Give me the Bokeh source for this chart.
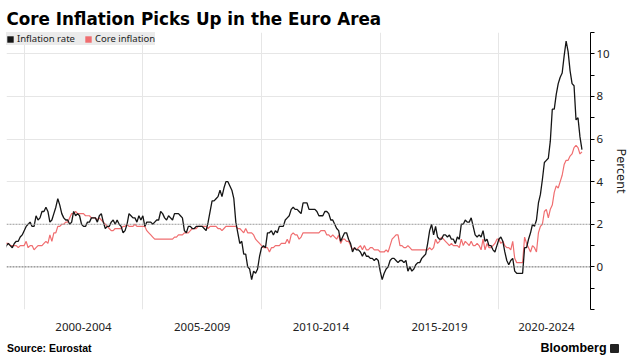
import math
from bokeh.plotting import figure
from bokeh.layouts import column
from bokeh.models import (ColumnDataSource, FixedTicker, Span, Legend,
                          LegendItem, Range1d, Div)
from bokeh.embed import file_html
from bokeh.resources import INLINE

# ---------------- data (monthly, Jan 1999 .. Jun 2023, % y/y) ----------------
START_YEAR = 1999

inflation_rate = [
    0.8, 0.8, 1.0, 1.1, 1.0, 0.9, 1.1, 1.2, 1.2, 1.4, 1.5, 1.7,   # 1999
    1.9, 2.0, 2.1, 1.9, 1.9, 2.4, 2.2, 2.3, 2.6, 2.6, 2.8, 2.6,   # 2000
    2.1, 2.2, 2.5, 2.8, 3.2, 2.9, 2.5, 2.3, 2.2, 2.2, 2.0, 2.1,   # 2001
    2.6, 2.4, 2.5, 2.4, 2.0, 1.9, 1.9, 2.1, 2.1, 2.3, 2.3, 2.3,   # 2002
    2.1, 2.4, 2.5, 2.1, 1.8, 1.9, 1.9, 2.1, 2.2, 2.0, 2.2, 2.0,   # 2003
    1.9, 1.6, 1.7, 2.0, 2.5, 2.4, 2.3, 2.3, 2.1, 2.4, 2.2, 2.4,   # 2004
    1.9, 2.1, 2.1, 2.1, 2.0, 2.1, 2.2, 2.2, 2.6, 2.5, 2.3, 2.2,   # 2005
    2.4, 2.3, 2.2, 2.5, 2.5, 2.5, 2.4, 2.3, 1.7, 1.6, 1.9, 1.9,   # 2006
    1.8, 1.8, 1.9, 1.9, 1.9, 1.9, 1.8, 1.7, 2.1, 2.6, 3.1, 3.1,   # 2007
    3.2, 3.3, 3.6, 3.3, 3.7, 4.0, 4.0, 3.8, 3.6, 3.2, 2.1, 1.6,   # 2008
    1.1, 1.2, 0.6, 0.6, 0.0, -0.1, -0.6, -0.2, -0.3, -0.1, 0.5, 0.9,  # 2009
    1.0, 0.9, 1.6, 1.6, 1.7, 1.5, 1.7, 1.6, 1.9, 1.9, 1.9, 2.2,   # 2010
    2.3, 2.4, 2.7, 2.8, 2.7, 2.7, 2.6, 2.5, 3.0, 3.0, 3.0, 2.7,   # 2011
    2.7, 2.7, 2.7, 2.6, 2.4, 2.4, 2.4, 2.6, 2.6, 2.5, 2.2, 2.2,   # 2012
    2.0, 1.8, 1.7, 1.2, 1.4, 1.6, 1.6, 1.3, 1.1, 0.7, 0.9, 0.8,   # 2013
    0.8, 0.7, 0.5, 0.7, 0.5, 0.5, 0.4, 0.4, 0.3, 0.4, 0.3, -0.2,  # 2014
    -0.6, -0.3, -0.1, 0.0, 0.3, 0.4, 0.4, 0.3, 0.2, 0.3, 0.3, 0.2,  # 2015
    0.3, -0.2, 0.0, -0.2, -0.1, 0.1, 0.2, 0.2, 0.4, 0.5, 0.6, 1.1,  # 2016
    1.7, 2.0, 1.5, 1.9, 1.4, 1.3, 1.3, 1.5, 1.5, 1.4, 1.5, 1.3,   # 2017
    1.3, 1.1, 1.4, 1.3, 2.0, 2.0, 2.2, 2.1, 2.1, 2.3, 1.9, 1.5,   # 2018
    1.4, 1.5, 1.4, 1.7, 1.2, 1.3, 1.0, 1.0, 0.8, 0.7, 1.0, 1.3,   # 2019
    1.4, 1.2, 0.7, 0.3, 0.1, 0.3, 0.4, -0.2, -0.3, -0.3, -0.3, -0.3,  # 2020
    0.9, 0.9, 1.3, 1.6, 2.0, 1.9, 2.2, 3.0, 3.4, 4.1, 4.9, 5.0,   # 2021
    5.1, 5.9, 7.4, 7.4, 8.1, 8.6, 8.9, 9.1, 9.9, 10.6, 10.1, 9.2,  # 2022
    8.6, 8.5, 6.9, 7.0, 6.1, 5.5,                                 # 2023
]

core_inflation = [
    1.3, 1.2, 1.1, 1.1, 1.0, 1.0, 1.0, 1.0, 0.9, 1.0, 1.0, 1.0,   # 1999
    1.2, 0.9, 1.0, 1.0, 0.8, 0.9, 1.0, 1.0, 1.0, 1.1, 1.2, 1.1,   # 2000
    1.5, 1.2, 1.6, 1.6, 1.9, 1.9, 2.0, 2.0, 2.1, 2.1, 2.3, 2.5,   # 2001
    2.5, 2.6, 2.5, 2.5, 2.5, 2.5, 2.4, 2.4, 2.4, 2.3, 2.3, 2.3,   # 2002
    2.2, 2.3, 2.2, 2.1, 2.0, 1.9, 1.8, 1.7, 1.7, 1.8, 1.8, 1.8,   # 2003
    1.8, 1.9, 1.9, 2.0, 1.9, 1.9, 1.9, 2.0, 1.9, 1.9, 1.9, 1.9,   # 2004
    1.9, 1.7, 1.6, 1.5, 1.4, 1.3, 1.3, 1.3, 1.3, 1.3, 1.3, 1.3,   # 2005
    1.3, 1.3, 1.3, 1.4, 1.4, 1.5, 1.5, 1.5, 1.6, 1.6, 1.6, 1.7,   # 2006
    1.8, 1.8, 1.8, 1.9, 1.9, 1.9, 1.9, 1.9, 1.8, 1.9, 1.9, 1.9,   # 2007
    1.9, 1.8, 1.8, 1.7, 1.8, 1.9, 1.9, 1.9, 1.9, 1.9, 1.9, 1.8,   # 2008
    1.8, 1.7, 1.6, 1.8, 1.6, 1.6, 1.6, 1.5, 1.3, 1.2, 1.1, 1.0,   # 2009
    0.9, 0.9, 0.9, 0.7, 0.9, 0.9, 1.0, 1.0, 1.0, 1.1, 1.1, 1.1,   # 2010
    1.3, 1.1, 1.5, 1.6, 1.5, 1.5, 1.3, 1.4, 1.6, 1.6, 1.6, 1.6,   # 2011
    1.6, 1.6, 1.6, 1.6, 1.6, 1.7, 1.7, 1.7, 1.5, 1.5, 1.4, 1.5,   # 2012
    1.4, 1.3, 1.5, 1.1, 1.3, 1.3, 1.2, 1.2, 1.0, 0.8, 0.9, 0.8,   # 2013
    0.9, 1.0, 0.8, 1.0, 0.8, 0.8, 0.9, 0.9, 0.8, 0.8, 0.8, 0.7,   # 2014
    0.7, 0.7, 0.8, 0.7, 1.0, 1.3, 1.4, 1.5, 1.5, 1.0, 1.0, 0.9,   # 2015
    0.9, 1.0, 0.9, 0.8, 0.8, 0.8, 0.8, 0.8, 0.8, 0.8, 0.8, 0.8,   # 2016
    0.9, 0.8, 0.9, 1.3, 1.1, 1.2, 1.4, 1.3, 1.2, 1.1, 1.0, 1.1,   # 2017
    1.0, 1.0, 1.0, 0.9, 1.3, 1.0, 1.2, 1.1, 1.0, 1.2, 1.0, 1.0,   # 2018
    1.1, 1.0, 0.8, 1.3, 0.8, 1.1, 0.9, 0.9, 1.0, 1.1, 1.3, 1.3,   # 2019
    1.1, 1.2, 1.0, 0.9, 0.9, 0.8, 1.2, 0.4, 0.2, 0.2, 0.2, 0.2,   # 2020
    1.4, 1.1, 0.9, 0.7, 1.0, 0.9, 0.7, 1.6, 1.9, 2.0, 2.6, 2.7,   # 2021
    2.3, 2.7, 2.9, 3.5, 3.8, 3.7, 4.0, 4.3, 4.8, 5.0, 5.0, 5.2,   # 2022
    5.3, 5.6, 5.7, 5.6, 5.3, 5.4,                                 # 2023
]

period_labels = ["2000-2004", "2005-2009", "2010-2014", "2015-2019", "2020-2024"]
period_starts = [2000, 2005, 2010, 2015, 2020]
y_ticks = list(range(-2, 12))
y_labeled = [0, 2, 4, 6, 8, 10]
target_level = 2
zero_level = 0

X_START, X_END = 1999.255, 2023.86
Y_START, Y_END = -2, 11

# month-end positions of each observation
months = [START_YEAR + (i + 1) / 12 for i in range(len(inflation_rate))]
src = ColumnDataSource(dict(x=months, headline=inflation_rate, core=core_inflation))

W = 632
FIG_H = 340
FOOT_H = 14
FONT = "Noto Sans"
RED = "#f06e70"
BLACK = "#151515"

p = figure(width=W, height=FIG_H, x_range=Range1d(X_START, X_END),
           y_range=Range1d(Y_START, Y_END), y_axis_location="right",
           toolbar_location=None, output_backend="svg",
           title="Core Inflation Picks Up in the Euro Area",
           min_border_left=6, min_border_right=30,
           min_border_top=32, min_border_bottom=31)
p.outline_line_color = None
p.background_fill_color = "white"
p.border_fill_color = "white"

p.title.align = "left"
p.title.offset = 0
p.title.standoff = 8
p.title.text_font = "DejaVu Sans"
p.title.text_font_style = "bold"
p.title.text_font_size = "16.8px"
p.title.text_color = "black"

# grid
p.xgrid.ticker = FixedTicker(ticks=period_starts)
p.xgrid.grid_line_color = "#e6e6e6"
p.ygrid.ticker = FixedTicker(ticks=[t for t in y_labeled if t not in (0, 2)] + [-2])
p.ygrid.grid_line_color = "#e6e6e6"

p.add_layout(Span(location=target_level, dimension="width", line_color="#9a9a9a",
                  line_width=1, line_dash="2 1"))
p.add_layout(Span(location=zero_level, dimension="width", line_color="#666666",
                  line_width=1, line_dash="2 1"))

# x axis: period labels centred in each period (last one in its visible part)
centers = [s + 2.5 for s in period_starts[:-1]] + [period_starts[-1] + 2.0]
xax = p.xaxis[0]
xax.ticker = FixedTicker(ticks=centers)
xax.major_label_overrides = {c: lab for c, lab in zip(centers, period_labels)}
xax.axis_line_color = None
xax.major_tick_line_color = None
xax.minor_tick_line_color = None
xax.major_tick_out = 0
xax.major_tick_in = 0
xax.minor_tick_out = 0
xax.minor_tick_in = 0
xax.major_label_standoff = 13
xax.major_label_text_font = FONT
xax.major_label_text_font_size = "11.5px"
xax.major_label_text_color = "#222222"

# right y axis
yax = p.yaxis[0]
yax.ticker = FixedTicker(ticks=y_ticks)
yax.major_label_overrides = {t: (str(t) if t in y_labeled else "") for t in y_ticks}
yax.axis_line_color = "black"
yax.axis_line_width = 1
yax.major_tick_line_color = "black"
yax.major_tick_out = 4
yax.major_tick_in = 0
yax.minor_tick_out = 0
yax.minor_tick_in = 0
yax.major_label_standoff = 2
yax.major_label_text_font = FONT
yax.major_label_text_font_size = "11.5px"
yax.major_label_text_color = "#222222"
yax.axis_label = "Percent"
yax.axis_label_standoff = 0
yax.axis_label_text_font = FONT
yax.axis_label_text_font_size = "12.5px"
yax.axis_label_text_font_style = "normal"
yax.axis_label_text_color = "#222222"

# lines
p.line("x", "core", source=src, line_color=RED, line_width=1.2)
p.line("x", "headline", source=src, line_color=BLACK, line_width=1.3)

# legend swatches (square keys, never drawn in the plot area)
nan = float("nan")
sq_head = p.quad(left=[nan], right=[nan], top=[nan], bottom=[nan],
                 fill_color=BLACK, line_color=None)
sq_core = p.quad(left=[nan], right=[nan], top=[nan], bottom=[nan],
                 fill_color=RED, line_color=None)
legend = Legend(items=[LegendItem(label="Inflation rate", renderers=[sq_head]),
                       LegendItem(label="Core inflation", renderers=[sq_core])],
                location="top_left", orientation="horizontal", margin=0,
                padding=5, spacing=9, label_standoff=3, glyph_width=8,
                glyph_height=8, label_height=12,
                label_text_font=FONT, label_text_font_size="9.5px",
                label_text_color="#222222",
                background_fill_color="#ebebeb", background_fill_alpha=1,
                border_line_color=None)
p.add_layout(legend)

footer = Div(
    text=(
        '<div style="display:flex;justify-content:space-between;align-items:center;'
        'width:619px;padding-left:7px;height:%dpx;line-height:%dpx;">'
        '<span style="font-family:\'Liberation Sans\';font-weight:bold;font-size:10.5px;'
        'color:#000;">Source: Eurostat</span>'
        '<span style="font-family:\'Liberation Sans\';font-weight:bold;font-size:12.5px;'
        'color:#000;">Bloomberg <span style="display:inline-block;width:9px;height:9px;'
        'background:#222;border-radius:1px;vertical-align:middle;"></span></span>'
        '</div>' % (FOOT_H, FOOT_H)
    ),
    width=W, height=FOOT_H, margin=(0, 0, 0, 0),
)

layout = column(p, footer, spacing=0)
open("out.html", "w").write(file_html(layout, INLINE))
